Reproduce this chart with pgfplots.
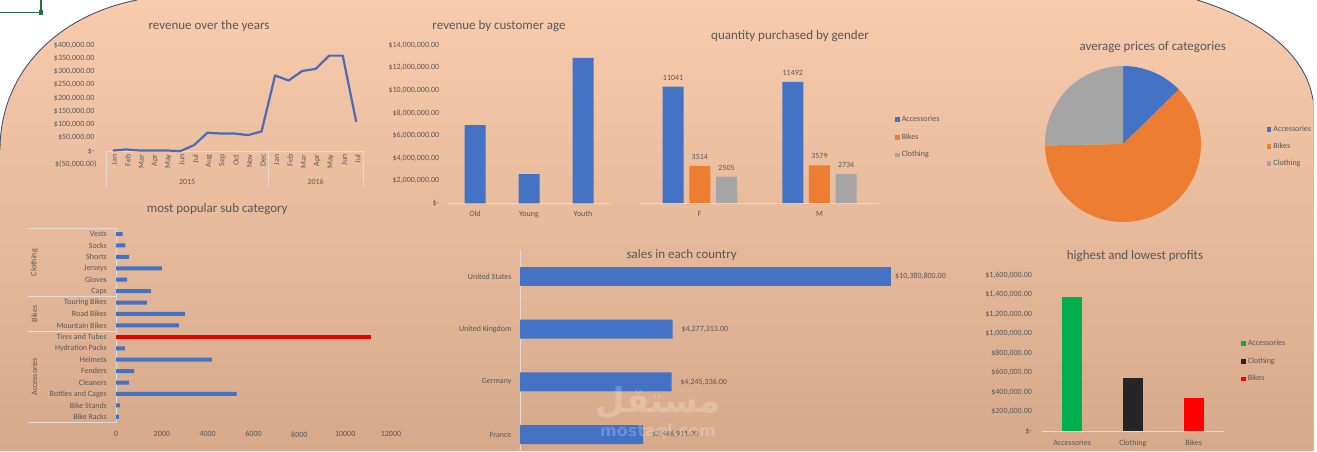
\documentclass[border=0pt]{standalone}
\usepackage{pgfplots}
\pgfplotsset{compat=1.18}
\usepackage{pgfplotstable}
\usepackage{fontspec}
\setmainfont{Carlito}
\newfontfamily\dejavu{DejaVu Sans}
\newfontfamily\arabicfont[Script=Arabic]{DejaVu Sans}
\TeXXeTstate=1

\definecolor{accblue}{HTML}{4472C4}
\definecolor{accorange}{HTML}{ED7D31}
\definecolor{accgray}{HTML}{A5A5A5}
\definecolor{linblue}{HTML}{4A6DB5}
\definecolor{txt}{HTML}{595959}
\definecolor{ttl}{HTML}{595959}
\definecolor{peachtop}{HTML}{F8CBAD}
\definecolor{peachbot}{HTML}{D5A98A}
\definecolor{axgray}{HTML}{E3DCD6}
\definecolor{xlgreen}{HTML}{217346}
\definecolor{pgreen}{HTML}{00B050}
\definecolor{pblack}{HTML}{262626}
\definecolor{pred}{HTML}{FF0000}
\definecolor{arcline}{HTML}{44546A}

\newcommand{\sm}{\fontsize{8}{9.6}\selectfont}
\newcommand{\ttlf}{\fontsize{13}{15.6}\selectfont}

\pgfplotsset{
  dash/.style={scale only axis, anchor=south west, clip=false,
    tick label style={font=\sm, text=txt},
    /pgf/number format/assume math mode=true,
    /pgf/number format/1000 sep={},
    scaled x ticks=false, scaled y ticks=false,
    major tick length=0pt,
    legend style={draw=none, fill=none, font=\sm, text=txt, inner sep=0pt, anchor=north west},
    legend cell align=left,
  },
  sqleg/.style={legend image code/.code={\fill[##1] (0pt,-2.3pt) rectangle (4.6pt,2.3pt);}},
}

\pgfplotstableread{
idx rev
0 2000
1 6000
2 2000
3 2000
4 2000
5 0
6 22000
7 69000
8 66000
9 66000
10 60000
11 74000
12 285000
13 266000
14 302000
15 310000
16 360000
17 360000
18 110000
}\revtable

\pgfplotstableread{
idx val
0 130
1 170
2 5260
3 560
4 790
5 4180
6 390
8 2740
9 3010
10 1350
11 1530
12 480
13 2000
14 570
15 410
16 290
}\subtable

\def\pA{12.7}\def\pB{62.0}\def\pC{25.3}
\pgfmathsetmacro{\aA}{90-360*(\pA/(\pA+\pB+\pC))}
\pgfmathsetmacro{\aB}{\aA-360*(\pB/(\pA+\pB+\pC))}

\begin{document}
\begin{tikzpicture}[x=1pt,y=1pt]
\path[use as bounding box] (0,0) rectangle (1317,451);
\fill[white] (0,0) rectangle (1317,451);
\shade[top color=peachtop, bottom color=peachbot] (0,0) -- (0,301) .. controls (0,381) and (60,436) .. (137,451) -- (1197,451) .. controls (1255,433) and (1305,401) .. (1313,351) -- (1313,0) -- cycle;
\draw[arcline, line width=0.9pt] (0,301) .. controls (0,381) and (60,436) .. (137,451);
\draw[arcline, line width=0.9pt] (1197,451) .. controls (1255,433) and (1305,401) .. (1313,351);
\draw[black!25, line width=0.6pt] (1313,351) -- (1313,0);
\draw[xlgreen, line width=1.6pt] (0,438.3) -- (40.7,438.3) -- (40.7,451);
\fill[xlgreen] (38.5,436) rectangle (43,440.5);

% titles
\node[font=\ttlf, text=ttl] at (209,425) {revenue over the years};
\node[font=\ttlf, text=ttl] at (499,425) {revenue by customer age};
\node[font=\ttlf, text=ttl] at (790,415) {quantity purchased by gender};
\node[font=\ttlf, text=ttl] at (1152.7,403.7) {average prices of categories};
\node[font=\ttlf, text=ttl] at (217.3,242) {most popular sub category};
\node[font=\ttlf, text=ttl] at (681.7,196) {sales in each country};
\node[font=\ttlf, text=ttl] at (1135,195.3) {highest and lowest profits};

% 1 revenue over the years
\begin{axis}[dash, at={(106pt,286.7pt)}, width=257pt, height=119.3pt,
  xmin=-0.5, xmax=18.5, ymin=-50000, ymax=400000,
  axis x line=middle, axis y line=left, axis line style={draw=none},
  hide obscured x ticks=false, hide obscured y ticks=false,
  xtick={0,...,18},
  xticklabels={Jan,Feb,Mar,Apr,May,Jun,Jul,Aug,Sep,Oct,Nov,Dec,Jan,Feb,Mar,Apr,May,Jun,Jul},
  xticklabel style={rotate=90, anchor=east, yshift=-1.5pt},
  ytick={-50000,0,50000,100000,150000,200000,250000,300000,350000,400000},
  yticklabels={{\$(50,000.00)\kern-2pt},{\$-\hspace{4pt}},{\$50,000.00},{\$100,000.00},{\$150,000.00},{\$200,000.00},{\$250,000.00},{\$300,000.00},{\$350,000.00},{\$400,000.00}},
  yticklabel style={xshift=-8pt},
]
\draw[axgray, line width=0.8pt] (axis cs:-0.5,0) -- (axis cs:18.5,0);
\draw[axgray, line width=0.8pt] (axis cs:-0.5,0) -- ++(0pt,-36pt);
\draw[axgray, line width=0.8pt] (axis cs:11.5,0) -- ++(0pt,-36pt);
\draw[axgray, line width=0.8pt] (axis cs:18.5,0) -- ++(0pt,-36pt);
\node[font=\sm, text=txt] at (axis cs:5.5,0) [yshift=-31pt] {2015};
\node[font=\sm, text=txt] at (axis cs:15,0) [yshift=-31pt] {2016};
\addplot[linblue, line width=2.2pt, line join=round] table[x=idx,y=rev]{\revtable};
\end{axis}

% 2 revenue by customer age
\begin{axis}[dash, at={(448pt,247.7pt)}, width=162pt, height=158.3pt,
  ybar, bar width=21pt, xmin=-0.5, xmax=2.5, ymin=0, ymax=14000000,
  axis x line*=bottom, axis y line*=left, axis line style={-},
  y axis line style={draw=none}, x axis line style={draw=axgray, line width=0.8pt},
  xtick={0,1,2}, xticklabels={Old,Young,Youth},
  xticklabel style={yshift=-4.5pt},
  ytick={0,2000000,4000000,6000000,8000000,10000000,12000000,14000000},
  yticklabels={{\$-\hspace{4pt}},{\$2,000,000.00},{\$4,000,000.00},{\$6,000,000.00},{\$8,000,000.00},{\$10,000,000.00},{\$12,000,000.00},{\$14,000,000.00}},
  yticklabel style={xshift=-5.3pt},
]
\addplot[fill=accblue, draw=none, bar shift=0pt] coordinates {(0,6920000) (1,2590000) (2,12870000)};
\end{axis}

% 3 quantity purchased by gender
\begin{axis}[dash, at={(640pt,248pt)}, width=239.3pt, height=147.5pt,
  ybar=5.7pt, bar width=21pt, xmin=-0.5, xmax=1.5, ymin=0, ymax=14000,
  axis x line*=bottom, axis y line=none, axis line style={-},
  x axis line style={draw=axgray, line width=0.8pt},
  ytick=\empty, xtick={0,1}, xticklabels={F,M},
  xticklabel style={yshift=-5pt},
  nodes near coords,
  every node near coord/.append style={font=\sm, text=txt, yshift=3pt},
  legend style={at={(1.0656,0.603)}, row sep=6.5pt},
]
\addplot[fill=accblue, draw=none, sqleg] coordinates {(0,11041) (1,11492)};
\addlegendentry{Accessories}
\addplot[fill=accorange, draw=none, sqleg] coordinates {(0,3514) (1,3579)};
\addlegendentry{Bikes}
\addplot[fill=accgray, draw=none, sqleg] coordinates {(0,2505) (1,2734)};
\addlegendentry{Clothing}
\end{axis}

% 4 pie
\begin{axis}[at={(1123pt,307pt)}, anchor=center, scale only axis, width=156pt, height=156pt,
  xmin=-1, xmax=1, ymin=-1, ymax=1, hide axis, clip=false,
  legend style={at={(1.421,0.631)}, anchor=north west, draw=none, fill=none, font=\sm, text=txt, inner sep=0pt, row sep=6pt},
  legend cell align=left]
\addlegendimage{sqleg, fill=accblue, draw=none}\addlegendentry{Accessories}
\addlegendimage{sqleg, fill=accorange, draw=none}\addlegendentry{Bikes}
\addlegendimage{sqleg, fill=accgray, draw=none}\addlegendentry{Clothing}
\fill[accblue] (axis cs:0,0) -- ++(90:78pt) arc[start angle=90, end angle=\aA, radius=78pt] -- cycle;
\fill[accorange] (axis cs:0,0) -- ++(\aA:78pt) arc[start angle=\aA, end angle=\aB, radius=78pt] -- cycle;
\fill[accgray] (axis cs:0,0) -- ++(\aB:78pt) arc[start angle=\aB, end angle=-270, radius=78pt] -- cycle;
\end{axis}

% 5 most popular sub category
\begin{axis}[dash, at={(116pt,28.5pt)}, width=275pt, height=194.2pt,
  xbar, bar width=4pt, xmin=0, xmax=12000, ymin=-0.5, ymax=16.5,
  axis x line*=bottom, axis y line*=left, axis line style={-},
  x axis line style={draw=none}, y axis line style={draw=axgray, line width=0.8pt},
  xtick={0,2000,4000,6000,8000,10000,12000},
  xticklabel style={yshift=-5.5pt},
  ytick={0,...,16},
  yticklabels={Bike Racks,Bike Stands,Bottles and Cages,Cleaners,Fenders,Helmets,Hydration Packs,Tires and Tubes,Mountain Bikes,Road Bikes,Touring Bikes,Caps,Gloves,Jerseys,Shorts,Socks,Vests},
  yticklabel style={xshift=-5.6pt},
]
\addplot[fill=accblue, draw=none, bar shift=0pt] table[x=val,y=idx]{\subtable};
\addplot[fill=pred!90!black, draw=none, bar shift=0pt] coordinates {(11110,7)};
\draw[axgray, line width=0.8pt] (axis cs:0,16.5) -- ++(-87.7pt,0pt);
\draw[axgray, line width=0.8pt] (axis cs:0,10.5) -- ++(-87.7pt,0pt);
\draw[axgray, line width=0.8pt] (axis cs:0,7.5) -- ++(-87.7pt,0pt);
\draw[axgray, line width=0.8pt] (axis cs:0,-0.5) -- ++(-87.7pt,0pt);
\path (axis cs:0,13.5) ++(-81.7pt,0pt) node[rotate=90, font=\sm, text=txt] {Clothing};
\path (axis cs:0,9) ++(-81.7pt,0pt) node[rotate=90, font=\sm, text=txt] {Bikes};
\path (axis cs:0,3.5) ++(-81.7pt,0pt) node[rotate=90, font=\sm, text=txt] {Accessories};
\end{axis}

% 6 sales in each country
\begin{axis}[dash, at={(520pt,-9.9pt)}, width=428.5pt, height=210.8pt,
  xbar, bar width=19pt, xmin=0, xmax=12000000, ymin=-0.5, ymax=3.5,
  axis y line*=left, axis x line=none, axis line style={-},
  y axis line style={draw=axgray, line width=0.8pt},
  xtick=\empty, ytick={0,1,2,3},
  yticklabels={France,Germany,United Kingdom,United States},
  yticklabel style={xshift=-5pt},
  nodes near coords, point meta=explicit symbolic,
  nodes near coords align={horizontal},
  every node near coord/.append style={font=\sm, text=txt, anchor=west, xshift=5.3pt},
]
\addplot[fill=accblue, draw=none, bar shift=0pt] coordinates {(3446911,0) [\$3,446,911.00] (4245336,1) [\$4,245,336.00] (4277313,2) [\$4,277,313.00]};
\addplot[fill=accblue, draw=none, bar shift=0pt, every node near coord/.append style={xshift=-4.3pt}] coordinates {(10380800,3) [\$10,380,800.00]};
\end{axis}

% 7 highest and lowest profits
\begin{axis}[dash, at={(1041.7pt,20pt)}, width=182.3pt, height=155.7pt,
  ybar, bar width=20pt, xmin=-0.5, xmax=2.5, ymin=0, ymax=1600000,
  axis x line*=bottom, axis y line*=left, axis line style={-},
  y axis line style={draw=none}, x axis line style={draw=axgray, line width=0.8pt},
  xtick={0,1,2}, xticklabels={Accessories,Clothing,Bikes},
  xticklabel style={yshift=-5pt},
  ytick={0,200000,400000,600000,800000,1000000,1200000,1400000,1600000},
  yticklabels={{\$-\hspace{4pt}},{\$200,000.00},{\$400,000.00},{\$600,000.00},{\$800,000.00},{\$1,000,000.00},{\$1,200,000.00},{\$1,400,000.00},{\$1,600,000.00}},
  yticklabel style={xshift=-6.3pt},
  legend style={at={(1.093,0.597)}, row sep=6.5pt},
]
\addplot[fill=pgreen, draw=none, bar shift=0pt, sqleg] coordinates {(0,1377000)};
\addlegendentry{Accessories}
\addplot[fill=pblack, draw=none, bar shift=0pt, sqleg] coordinates {(1,548000)};
\addlegendentry{Clothing}
\addplot[fill=pred, draw=none, bar shift=0pt, sqleg] coordinates {(2,339000)};
\addlegendentry{Bikes}
\end{axis}

% watermark
\node[text=white, opacity=0.22, font=\arabicfont\bfseries\fontsize{34}{40}\selectfont] at (658,48) {\beginR مستقل\endR};
\node[text=white, opacity=0.22, font=\dejavu\bfseries\fontsize{16}{19}\selectfont] at (658,19) {mostaql.com};
\end{tikzpicture}
\end{document}
